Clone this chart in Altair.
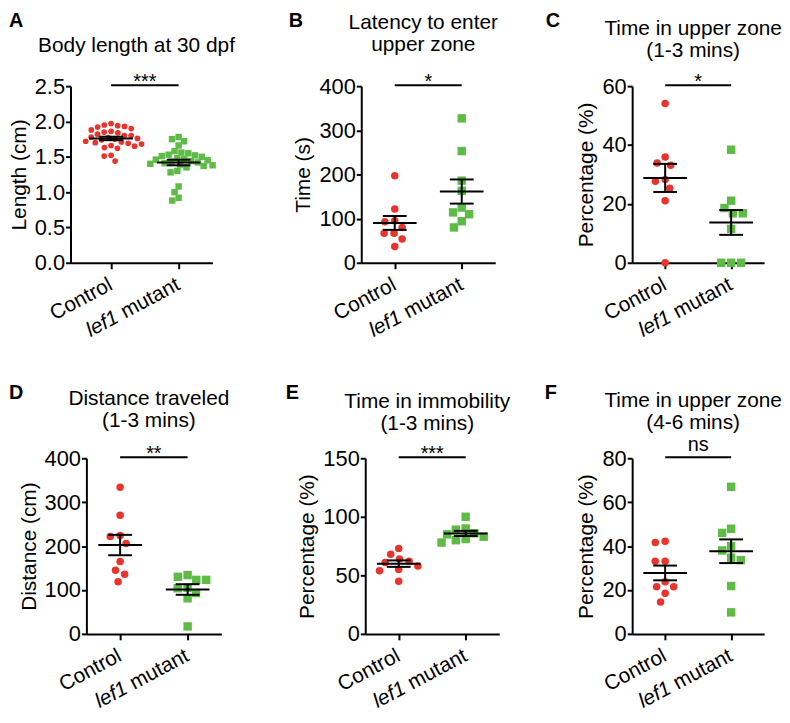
import math
import numpy as np
import pandas as pd
import altair as alt

FONT = "Liberation Sans"
RED = "#E8342A"
GREEN = "#5DBB46"

group_labels = ["Control", "lef1 mutant"]
group_centers = [1, 3]

# ---- data ----
a_control = [1.97, 1.95, 1.94, 1.93, 1.92, 1.90, 1.88, 1.86, 1.85, 1.84, 1.82, 1.80, 1.80, 1.78, 1.77,
             1.76, 1.75, 1.74, 1.72, 1.71, 1.70, 1.69, 1.68, 1.66, 1.65, 1.63, 1.62, 1.52, 1.51, 1.44]
a_mutant = [1.78, 1.75, 1.72, 1.66, 1.58, 1.56, 1.55, 1.53, 1.52, 1.51, 1.50, 1.48, 1.47, 1.46, 1.45,
            1.44, 1.43, 1.42, 1.41, 1.40, 1.39, 1.38, 1.37, 1.35, 1.30, 1.28, 1.08, 1.00, 0.92, 0.88]
b_control = [197, 122, 95, 93, 80, 67, 67, 54, 37]
b_mutant = [327, 253, 186, 163, 125, 114, 110, 94, 80]
c_control = [54.1, 35.9, 33.9, 33.1, 28.3, 27.7, 25.3, 21.1, 0]
c_mutant = [38.4, 21.1, 18.6, 16.8, 16.8, 11.5, 0, 0, 0]
d_control = [334, 270, 224, 222, 206, 165, 145, 136, 119]
d_mutant = [134, 130, 123, 123, 105, 104, 93, 81, 17]
e_control = [73, 68, 64, 62, 61, 58, 55, 54, 45]
e_mutant = [100, 90, 89, 86, 85, 83, 81, 80, 78]
f_control = [42.2, 41.6, 33.1, 33.1, 23.8, 21.5, 21.5, 18.5, 14.5]
f_mutant = [67, 47.9, 46, 40, 38, 34.7, 33.6, 21.8, 9.8]

a_ticks = [0.0, 0.5, 1.0, 1.5, 2.0, 2.5]
b_ticks = [0, 100, 200, 300, 400]
c_ticks = [0, 20, 40, 60]
d_ticks = [0, 100, 200, 300, 400]
e_ticks = [0, 50, 100, 150]
f_ticks = [0, 20, 40, 60, 80]

letters = ["A", "B", "C", "D", "E", "F"]
panel_titles = [
    ["Body length at 30 dpf"],
    ["Latency to enter", "upper zone"],
    ["Time in upper zone", "(1-3 mins)"],
    ["Distance traveled", "(1-3 mins)"],
    ["Time in immobility", "(1-3 mins)"],
    ["Time in upper zone", "(4-6 mins)"],
]
y_titles = ["Length (cm)", "Time (s)", "Percentage (%)", "Distance (cm)", "Percentage (%)", "Percentage (%)"]
sig_labels = ["***", "*", "*", "**", "***", "ns"]

LINE_H = 23


def swarm(values, ppy, diam):
    ys = [v * ppy for v in values]
    order = sorted(range(len(values)), key=lambda i: -values[i])
    placed = []
    offs = [0.0] * len(values)
    for i in order:
        y = ys[i]
        cands = [0.0]
        for (px, py) in placed:
            dy = y - py
            if abs(dy) < diam:
                dx = math.sqrt(diam * diam - dy * dy)
                cands += [px + dx, px - dx]
        cands.sort(key=lambda c: (abs(c), c))
        chosen = cands[-1]
        for c in cands:
            if all((c - px) ** 2 + (y - py) ** 2 >= diam * diam - 1e-6 for px, py in placed):
                chosen = c
                break
        placed.append((chosen, y))
        offs[i] = chosen
    return offs


def panel(idx, ctrl, mut, ticks, fmt, width, height, xdom, title_gap, sig_dy,
          circ_size, sq_size, diam, letter_dx):
    ymax = ticks[-1]
    ppx = width / (xdom[1] - xdom[0])
    ppy = height / ymax
    frames = []
    for g, vals in enumerate([ctrl, mut]):
        offs = swarm(vals, ppy, diam)
        frames.append(pd.DataFrame({"x": [group_centers[g] + o / ppx for o in offs], "v": vals}))
    summ_rows, cap_rows = [], []
    for g, vals in enumerate([ctrl, mut]):
        arr = np.array(vals, dtype=float)
        m = arr.mean()
        se = arr.std(ddof=1) / math.sqrt(len(arr))
        summ_rows.append({"x": group_centers[g], "mean": m, "lo": m - se, "hi": m + se})
        cap_rows += [{"x": group_centers[g], "v": m - se}, {"x": group_centers[g], "v": m + se}]
    summ = pd.DataFrame(summ_rows)
    caps = pd.DataFrame(cap_rows)

    xs = alt.Scale(domain=xdom, nice=False, zero=False)
    ys = alt.Scale(domain=[0, ymax], nice=False, zero=True)
    xax = alt.Axis(values=group_centers, labels=False, title=None, tickSize=6, grid=False)
    yax = alt.Axis(values=ticks, format=fmt, title=y_titles[idx], grid=False)

    def X(f):
        return alt.X(f, type="quantitative", scale=xs, axis=xax)

    def Y(f):
        return alt.Y(f, type="quantitative", scale=ys, axis=yax)

    p_ctrl = alt.Chart(frames[0]).mark_point(shape="circle", filled=True, opacity=1,
                                              size=circ_size, color=RED).encode(x=X("x"), y=Y("v"))
    p_mut = alt.Chart(frames[1]).mark_point(shape="square", filled=True, opacity=1,
                                             size=sq_size, color=GREEN).encode(x=X("x"), y=Y("v"))
    sem_rule = alt.Chart(summ).mark_rule(color="black", strokeWidth=2).encode(
        x=X("x"), y=Y("lo"), y2="hi")
    mean_tick = alt.Chart(summ).mark_tick(orient="horizontal", size=44, thickness=2,
                                          color="black", opacity=1).encode(x=X("x"), y=Y("mean"))
    cap_tick = alt.Chart(caps).mark_tick(orient="horizontal", size=24, thickness=2,
                                         color="black", opacity=1).encode(x=X("x"), y=Y("v"))

    sig = pd.DataFrame({"x1": [group_centers[0]], "x2": [group_centers[1]],
                        "xm": [(group_centers[0] + group_centers[1]) / 2],
                        "v": [ymax], "label": [sig_labels[idx]]})
    sig_rule = alt.Chart(sig).mark_rule(color="black", strokeWidth=2, yOffset=-1).encode(
        x=X("x1"), x2="x2", y=Y("v"))
    sig_text = alt.Chart(sig).mark_text(font=FONT, fontSize=20, color="black", dy=sig_dy,
                                        baseline="alphabetic").encode(x=X("xm"), y=Y("v"), text="label:N")

    gene, word = group_labels[1].split(" ")
    lab_plain = pd.DataFrame({"x": group_centers, "t": [group_labels[0], word]})
    lab_ital = pd.DataFrame({"x": [group_centers[1]], "t": [gene]})
    xl1 = alt.Chart(lab_plain).mark_text(font=FONT, fontSize=21, angle=332, align="right",
                                         baseline="middle", color="black").encode(
        x=X("x"), y=alt.value(height + 21), text="t:N")
    xl2 = alt.Chart(lab_ital).mark_text(font=FONT, fontSize=21, fontStyle="italic", angle=332,
                                        align="right", baseline="middle", dx=-70, color="black").encode(
        x=X("x"), y=alt.value(height + 21), text="t:N")

    lines = panel_titles[idx]
    n = len(lines)
    title_layers = []
    for k, line in enumerate(lines):
        title_layers.append(alt.Chart(pd.DataFrame({"t": [line]})).mark_text(
            font=FONT, fontSize=21, align="center", baseline="alphabetic", color="black").encode(
            x=alt.value(width / 2 - 5), y=alt.value(-(title_gap + LINE_H * (n - 1 - k))), text="t:N"))
    let = alt.Chart(pd.DataFrame({"t": [letters[idx]]})).mark_text(
        font=FONT, fontSize=20, fontWeight="bold", align="left", baseline="top", color="black").encode(
        x=alt.value(letter_dx), y=alt.value(-76), text="t:N")

    return alt.layer(p_ctrl, p_mut, sem_rule, mean_tick, cap_tick, sig_rule, sig_text,
                     xl1, xl2, *title_layers, let).properties(width=width, height=height)


def spacer(w, h):
    return alt.Chart(pd.DataFrame({"s": [0]})).mark_point(opacity=0).encode(
        x=alt.value(0), y=alt.value(0)).properties(width=w, height=h)


H1, H2 = 178, 177
pA = panel(0, a_control, a_mutant, a_ticks, ".1f", 143, H1, [-0.2, 4], 34, 2, 33, 42, 7.0, -62)
pB = panel(1, b_control, b_mutant, b_ticks, "d", 135, H1, [0, 4], 35, 2, 57, 72, 10.0, -73)
pC = panel(2, c_control, c_mutant, c_ticks, "d", 133, H1, [0, 4], 29, 2, 57, 72, 10.0, -87)
pD = panel(3, d_control, d_mutant, d_ticks, "d", 136, H2, [0, 4], 31, 2, 57, 72, 10.0, -78)
pE = panel(4, e_control, e_mutant, e_ticks, "d", 135, H2, [0, 4], 28, 2, 57, 72, 10.0, -80)
pF = panel(5, f_control, f_mutant, f_ticks, "d", 133, H2, [0, 4], 29, -7, 57, 72, 10.0, -88)

row1 = alt.HConcatChart(hconcat=[pA, spacer(150, H1), pB, spacer(138, H1), pC],
                        spacing=0, bounds="flush")
row2 = alt.HConcatChart(hconcat=[spacer(16, H2), pD, spacer(145, H2), pE, spacer(134, H2), pF],
                        spacing=0, bounds="flush")

chart = alt.VConcatChart(
    vconcat=[row1, row2], spacing=42,
    padding={"left": 0, "top": 0, "right": 0, "bottom": 0},
).configure(font=FONT).configure_view(strokeWidth=0).configure_axis(
    labelFont=FONT, labelFontSize=22, labelColor="black", titleFont=FONT, titleFontSize=21,
    titleFontWeight="normal", titleColor="black", domainColor="black", tickColor="black",
    domainWidth=2, tickWidth=2, tickSize=5, labelPadding=1, titlePadding=5, grid=False)

chart.save("out.html", embed_options={"renderer": "svg", "actions": False})
